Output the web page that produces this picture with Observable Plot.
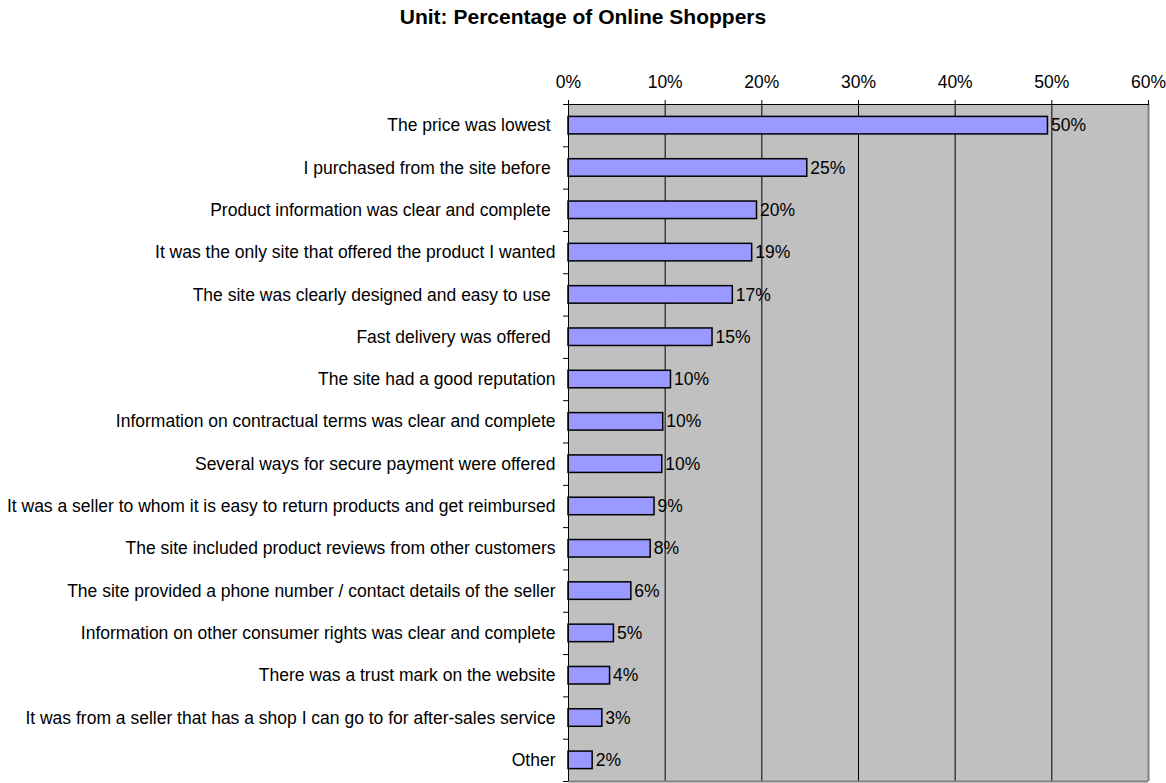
<!DOCTYPE html>
<html><head><meta charset="utf-8">
<script src="https://cdn.jsdelivr.net/npm/d3@7"></script>
<script src="https://cdn.jsdelivr.net/npm/@observablehq/plot@0.6"></script>
<style>
body{margin:0;background:#fff;font-family:"Liberation Sans",Arial,sans-serif;}
#wrap{position:relative;width:1166px;height:783px;}
#title{position:absolute;left:0;top:5px;width:1166px;text-align:center;font-weight:bold;font-size:21px;line-height:24px;z-index:2;}
#chart{position:absolute;left:0;top:0;}
</style></head><body>
<div id="wrap"><div id="title">Unit: Percentage of Online Shoppers</div><div id="chart"></div></div>
<script>
const categories = [
  "The price was lowest\u00a0",
  "I purchased from the site before\u00a0",
  "Product information was clear and complete\u00a0",
  "It was the only site that offered the product I wanted",
  "The site was clearly designed and easy to use\u00a0",
  "Fast delivery was offered\u00a0",
  "The site had a good reputation",
  "Information on contractual terms was clear and complete",
  "Several ways for secure payment were offered",
  "It was a seller to whom it is easy to return products and get reimbursed",
  "The site included product reviews from other customers",
  "The site provided a phone number / contact details of the seller",
  "Information on other consumer rights was clear and complete",
  "There was a trust mark on the website",
  "It was from a seller that has a shop I can go to for after-sales service",
  "Other"
];
const values = [49.6, 24.7, 19.5, 19.0, 17.0, 14.9, 10.6, 9.8, 9.7, 8.9, 8.5, 6.5, 4.7, 4.3, 3.5, 2.5];
const valueLabels = ["50%", "25%", "20%", "19%", "17%", "15%", "10%", "10%", "10%", "9%", "8%", "6%", "5%", "4%", "3%", "2%"];
const xTicks = [0, 10, 20, 30, 40, 50, 60];
const gridTicks = [10, 20, 30, 40, 50];

const data = categories.map((c, i) => ({category: c, index: i, value: values[i], label: valueLabels[i]}));

const plot = Plot.plot({
  width: 1166, height: 783,
  marginLeft: 568, marginRight: 18, marginTop: 104, marginBottom: 2,
  style: {fontFamily: "'Liberation Sans', Arial, sans-serif", fontSize: "17.5px", color: "black", background: "transparent"},
  x: {domain: [0, 60]},
  y: {domain: [0, 16], reverse: true},
  marks: [
    Plot.frame({fill: "#c0c0c0"}),
    Plot.ruleX(gridTicks, {stroke: "black", strokeWidth: 1}),
    Plot.rectX(data, {x1: 0, x2: "value", y1: "index", y2: d => d.index + 1, insetTop: 12.4, insetBottom: 12.4, fill: "#9999ff", stroke: "black", strokeWidth: 1.5}),
    Plot.text(data, {x: "value", y: d => d.index + 0.5, text: "label", textAnchor: "start", dx: 3, fontSize: 17.5, fill: "black"}),
    Plot.ruleX([60], {stroke: "#808080", strokeWidth: 2}),
    Plot.ruleY([16], {stroke: "#808080", strokeWidth: 2}),
    Plot.ruleX([0], {stroke: "black"}),
    Plot.ruleY([0], {stroke: "black"}),
    Plot.axisX({anchor: "top", ticks: xTicks, tickFormat: d => d + "%", tickSize: 5, tickPadding: 12, fontSize: 17.5, label: null}),
    Plot.axisY({ticks: d3.range(0, 17), tickFormat: () => "", tickSize: 5, label: null}),
    Plot.axisY({ticks: categories.map((c, i) => i + 0.5), tickFormat: t => categories[Math.floor(t)], tickSize: 0, tickPadding: 13, fontSize: 17.5, label: null})
  ]
});
document.getElementById("chart").appendChild(plot);
</script>
</body></html>
